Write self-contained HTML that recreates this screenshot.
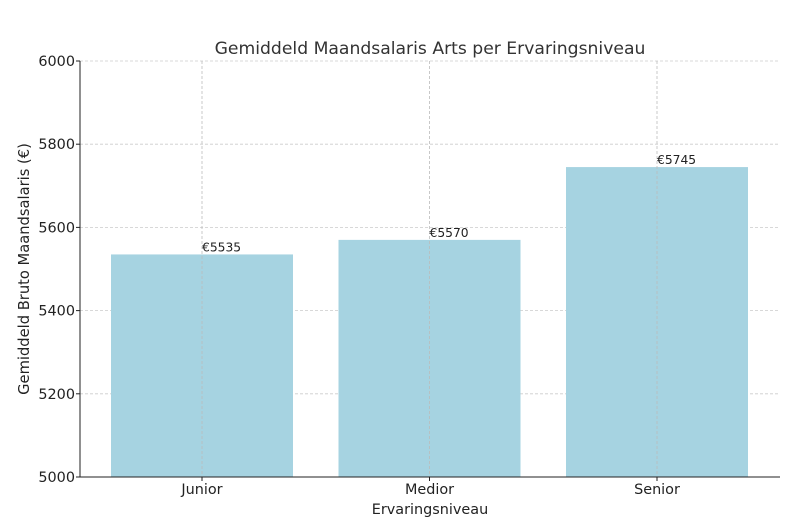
<!DOCTYPE html>
<html><head><meta charset="utf-8"><style>
body{margin:0;background:#fff;}
svg{display:block;font-family:"DejaVu Sans","Liberation Sans",sans-serif;}
</style></head><body>
<svg id="chart" width="799" height="524">
<text x="430" y="54" text-anchor="middle" font-size="17.2" fill="#333">Gemiddeld Maandsalaris Arts per Ervaringsniveau</text>
<text x="430" y="514" text-anchor="middle" font-size="14.4" fill="#222">Ervaringsniveau</text>
<text transform="translate(29,269) rotate(-90)" text-anchor="middle" font-size="14.7" fill="#222">Gemiddeld Bruto Maandsalaris (€)</text>
<g id="grid"></g><g id="bars"></g><g id="vgrid"></g><g id="labels"></g><g id="axes"></g>
</svg>
<script>
const categories=["Junior","Medior","Senior"];
const values=[5535,5570,5745];
const yTicks=[5000,5200,5400,5600,5800,6000];
const NS="http://www.w3.org/2000/svg";
const L=80,R=780,T=61,B=477,yMin=5000,yMax=6000;
const y=v=>B-(v-yMin)/(yMax-yMin)*(B-T);
const step=227.5,c0=202;
const x=i=>c0+i*step;
const bw=182;
function mk(tag,attrs,parent,txt){const e=document.createElementNS(NS,tag);for(const k in attrs)e.setAttribute(k,attrs[k]);if(txt!==undefined)e.textContent=txt;document.getElementById(parent).appendChild(e);return e;}
yTicks.forEach(t=>{
  const g=mk('line',{x1:L,x2:R,y1:y(t),y2:y(t),stroke:'#ccc','stroke-dasharray':'3,2','stroke-width':0.8},'grid');
  
  
  const tk=mk('line',{x1:L-4,x2:L,y1:y(t),y2:y(t),stroke:'#222'},'axes');
  
  
  const lb=mk('text',{x:L-5,y:y(t)+5,'text-anchor':'end','font-size':14.4,fill:'#222'},'axes',t);
  
  
});
categories.forEach((c,i)=>{
  const r=mk('rect',{x:x(i)-bw/2,y:y(values[i]),width:bw,height:B-y(values[i]),fill:'#a6d3e1'},'bars');
  
  
  const v=mk('line',{x1:x(i),x2:x(i),y1:T,y2:B,stroke:'#bbb','stroke-dasharray':'3,2','stroke-width':0.8},'vgrid');
  
  
  const lb=mk('text',{x:x(i),y:y(values[i])-3,'font-size':12.3,fill:'#222'},'labels','€'+values[i]);
  
  
  const tk=mk('line',{x1:x(i),x2:x(i),y1:B,y2:B+4,stroke:'#222'},'axes');
  
  
  const tl=mk('text',{x:x(i),y:B+17,'text-anchor':'middle','font-size':14.4,fill:'#222'},'axes',c);
  
  
});
const ax=mk('line',{x1:L,x2:L,y1:T,y2:B,stroke:'#222','stroke-width':1},'axes');


const bx=mk('line',{x1:L,x2:R,y1:B,y2:B,stroke:'#222','stroke-width':1},'axes');


</script>
</body></html>
